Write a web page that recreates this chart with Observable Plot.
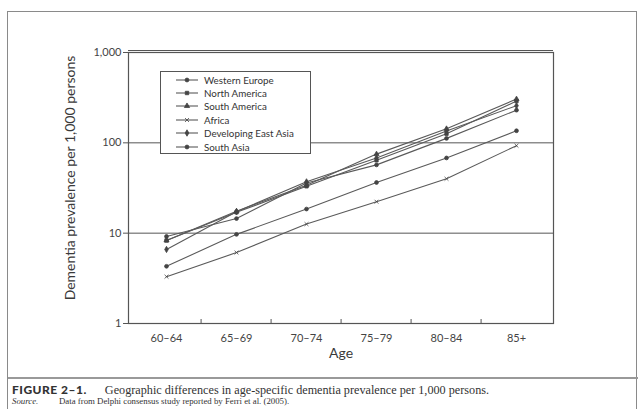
<!DOCTYPE html>
<html>
<head>
<meta charset="utf-8">
<script src="https://cdn.jsdelivr.net/npm/d3@7"></script>
<script src="https://cdn.jsdelivr.net/npm/@observablehq/plot@0.6"></script>
<style>
  html, body { margin: 0; padding: 0; background: #fff; }
  #wrap { position: relative; width: 642px; height: 409px; overflow: hidden; font-family: "Lato", "DejaVu Sans", sans-serif; color: #333; }
  #outer { position: absolute; left: 7px; top: 11px; width: 630px; height: 420px; border: 1px solid #8a8a8a; box-sizing: border-box; }
  #chart { position: absolute; left: 0; top: 0; }
  #ylabel { position: absolute; left: 69px; top: 178px; transform: translate(-50%, -50%) rotate(-90deg); white-space: nowrap; font-size: 14px; color: #3a3a3a; }
  #legend { position: absolute; left: 160px; top: 71px; width: 151px; height: 83px; box-sizing: border-box; border: 1px solid #555; background: #fff; padding-top: 1px; }
  .row { height: 13.4px; display: flex; align-items: center; font-size: 9.8px; color: #333; white-space: nowrap; }
  .row svg { margin-left: 15px; margin-right: 6px; }
  #hr { position: absolute; left: 8px; top: 377px; width: 630px; height: 0; border-top: 2px solid #999; }
  #cap { position: absolute; left: 12px; top: 382px; font-family: "Liberation Serif", serif; font-size: 12.2px; color: #333; white-space: nowrap; }
  #cap b { font-family: "Lato", "DejaVu Sans", sans-serif; font-weight: 900; font-size: 12px; letter-spacing: 0.5px; margin-right: 18px; }
  #src { position: absolute; left: 12px; top: 396px; font-family: "Liberation Serif", serif; font-size: 8.8px; color: #333; white-space: nowrap; }
  #src i { display: inline-block; width: 47px; }
</style>
</head>
<body>
<div id="wrap">
  <div id="outer"></div>
  <div id="chart"></div>
  <div id="ylabel">Dementia prevalence per 1,000 persons</div>
  <div id="legend"></div>
  <div id="hr"></div>
  <div id="cap"><b>FIGURE 2–1.</b>Geographic differences in age-specific dementia prevalence per 1,000 persons.</div>
  <div id="src"><i>Source.</i>Data from Delphi consensus study reported by Ferri et al. (2005).</div>
</div>
<script>
const ages = ["60–64", "65–69", "70–74", "75–79", "80–84", "85+"];
const regions = ["Western Europe", "North America", "South America", "Africa", "Developing East Asia", "South Asia"];
const westernEurope = [9.2, 14.5, 36, 57, 112, 230];
const northAmerica = [8.3, 17, 33, 64, 126, 290];
const southAmerica = [8.3, 17.5, 34, 75, 143, 305];
const africa = [3.3, 6.1, 12.6, 22.3, 40, 93];
const developingEastAsia = [6.6, 17.3, 37, 68, 135, 258];
const southAsia = [4.3, 9.7, 18.5, 36.4, 68, 136];
const yTicks = [1, 10, 100, 1000];
const gridValues = [10, 100];
const symbolNames = ["circle", "square", "triangle", "times", "diamond", "circle"];

const seriesValues = [westernEurope, northAmerica, southAmerica, africa, developingEastAsia, southAsia];
const data = regions.flatMap((r, i) => ages.map((a, j) => ({region: r, age: a, value: seriesValues[i][j]})));

const W = 642, H = 370;
const mL = 128, mR = 89, mT = 52, mB = 47;
const step = (W - mL - mR) / ages.length;
const ink = "#555";

const chart = Plot.plot({
  width: W, height: H,
  marginLeft: mL, marginRight: mR, marginTop: mT, marginBottom: mB,
  style: {fontFamily: "Lato, 'DejaVu Sans', sans-serif", fontSize: "11px", color: "#444", background: "transparent"},
  x: {type: "point", domain: ages, padding: 0.5},
  y: {type: "log", domain: [1, 1000]},
  symbol: {domain: regions, range: symbolNames},
  marks: [
    Plot.ruleY(gridValues, {stroke: ink, strokeWidth: 1}),
    Plot.ruleY([1000], {stroke: ink, strokeWidth: 1, dy: -2}),
    Plot.frame({stroke: ink, strokeWidth: 1.2}),
    Plot.ruleX(ages.slice(1), {x: d => d, dx: -step / 2, insetTop: H - mT - mB - 4, stroke: ink}),
    Plot.axisY({ticks: yTicks, tickFormat: d3.format(","), tickSize: 5, tickPadding: 2, label: null, stroke: ink}),
    Plot.axisX({tickSize: 0, tickPadding: 11, label: null}),
    Plot.text(["Age"], {frameAnchor: "bottom", dy: 34, fontSize: 14, fill: "#3a3a3a"}),
    Plot.line(data, {x: "age", y: "value", z: "region", stroke: "#5a5a5a", strokeWidth: 1.1}),
    Plot.dot(data, {x: "age", y: "value", symbol: "region", fill: "#444", stroke: "#444", strokeWidth: 0.8, r: 1.9})
  ]
});
document.getElementById("chart").appendChild(chart);

// legend
const legend = d3.select("#legend");
regions.forEach((r, i) => {
  const row = legend.append("div").attr("class", "row");
  const s = row.append("svg").attr("width", 22).attr("height", 10);
  s.append("line").attr("x1", 0).attr("x2", 22).attr("y1", 5).attr("y2", 5).attr("stroke", "#5a5a5a").attr("stroke-width", 1.1);
  const sym = {circle: d3.symbolCircle, square: d3.symbolSquare, triangle: d3.symbolTriangle, times: d3.symbolTimes, diamond: d3.symbolDiamond}[symbolNames[i]];
  s.append("path").attr("d", d3.symbol(sym, 12)()).attr("transform", "translate(11,5)")
    .attr("fill", "#444").attr("stroke", "#444").attr("stroke-width", 0.8);
  row.append("span").text(r);
});
</script>
</body>
</html>
